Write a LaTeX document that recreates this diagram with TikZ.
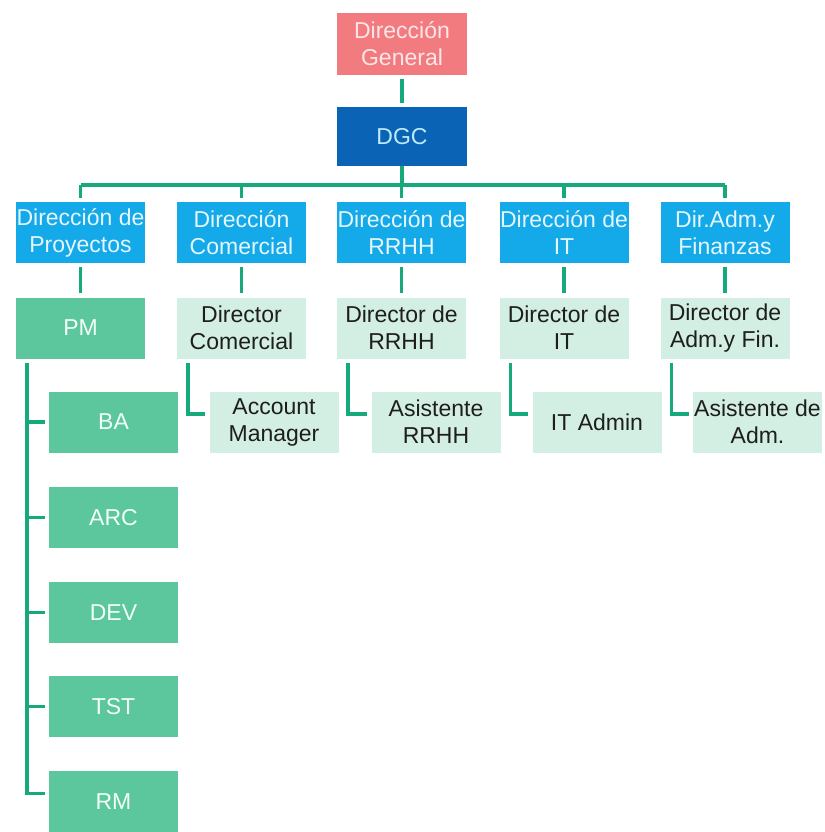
\documentclass[tikz,border=0pt]{standalone}
\usepackage{fontspec}
\setmainfont{Liberation Sans}
\definecolor{dgfill}{HTML}{F27B80}
\definecolor{dgtext}{HTML}{FDE6E8}
\definecolor{dgcfill}{HTML}{0B63B5}
\definecolor{dgctext}{HTML}{BDEBFB}
\definecolor{bluefill}{HTML}{14A9E8}
\definecolor{bluetext}{HTML}{E6F6FD}
\definecolor{pmfill}{HTML}{5CC69C}
\definecolor{pmtext}{HTML}{F2FFF9}
\definecolor{mintfill}{HTML}{D3EEE2}
\definecolor{darktext}{HTML}{1E1E1E}
\definecolor{linecol}{HTML}{16A97B}
\begin{document}
\begin{tikzpicture}[x=1pt,y=-1pt,
  box/.style={draw=none, minimum width=129pt, minimum height=61pt, inner sep=0pt, align=center, font=\fontsize{23}{27}\selectfont},
  topbox/.style={box, fill=dgfill, text=dgtext, minimum width=130pt, minimum height=62pt},
  dgcbox/.style={box, fill=dgcfill, text=dgctext, minimum width=130pt, minimum height=59pt},
  bluebox/.style={box, fill=bluefill, text=bluetext},
  pmbox/.style={box, fill=pmfill, text=pmtext},
  mintbox/.style={box, fill=mintfill, text=darktext},
  conn/.style={draw=linecol, line width=3.5pt, line join=miter},
  gapS/.style={shorten <=4pt},
  gapE/.style={shorten >=4pt}
]
\useasboundingbox (0,0) rectangle (824,832);
\fill[white] (0,0) rectangle (824,832);

% top
\node[topbox] (dg) at (402,44) {Dirección\\General};
\node[dgcbox] (dgc) at (402,136.5) {DGC};

% level 2
\node[bluebox] (l2a) at (80.5,232.5) {Dirección de\\Proyectos};
\node[bluebox] (l2b) at (241.5,232.5) {Dirección\\Comercial};
\node[bluebox] (l2c) at (401.5,232.5) {Dirección de\\RRHH};
\node[bluebox] (l2d) at (564,232.5) {Dirección de\\IT};
\node[bluebox] (l2e) at (725,232.5) {Dir.Adm.y\\Finanzas};

% level 3
\node[pmbox] (pm) at (80.5,328) {PM};
\node[mintbox] (l3b) at (241.5,328) {Director\\Comercial};
\node[mintbox] (l3c) at (401.5,328) {Director de\\RRHH};
\node[mintbox] (l3d) at (564,328) {Director de\\IT};
\node[mintbox] (l3e) at (725,328) {Director de\\Adm.y Fin.};

% level 4
\node[pmbox] (ba) at (113.5,422) {BA};
\node[mintbox] (l4b) at (274,422) {Account\\Manager};
\node[mintbox] (l4c) at (436,422) {Asistente\\RRHH};
\node[mintbox] (l4d) at (597,422) {IT Admin};
\node[mintbox] (l4e) at (757.5,422) {Asistente de\\Adm.};

% PM team
\node[pmbox] (arc) at (113.5,517.5) {ARC};
\node[pmbox] (dev) at (113.5,612.5) {DEV};
\node[pmbox] (tst) at (113.5,706.5) {TST};
\node[pmbox] (rm) at (113.5,801.5) {RM};

% connectors top
\draw[conn,gapS,gapE] (dg) -- (dgc);
\coordinate (bus) at (402,185);
\draw[conn] (dgc.south) -- (bus);
\draw[conn,gapE] (l2a.north |- bus) -- (l2a.north);
\draw[conn] (l2a.north |- bus) -- (l2e.north |- bus);
\draw[conn,gapE] (l2b.north |- bus) -- (l2b.north);
\draw[conn,gapE] (l2c.north |- bus) -- (l2c.north);
\draw[conn,gapE] (l2d.north |- bus) -- (l2d.north);
\draw[conn,gapE] (l2e.north |- bus) -- (l2e.north);

% level 2 -> level 3
\draw[conn,gapS,gapE] (l2a) -- (pm);
\draw[conn,gapS,gapE] (l2b) -- (l3b);
\draw[conn,gapS,gapE] (l2c) -- (l3c);
\draw[conn,gapS,gapE] (l2d) -- (l3d);
\draw[conn,gapS,gapE] (l2e) -- (l3e);

% level 3 -> level 4 (L shapes)
\draw[conn,gapS,gapE] ([xshift=11pt]l3b.south west) |- ([yshift=8pt]l4b.west);
\draw[conn,gapS,gapE] ([xshift=11pt]l3c.south west) |- ([yshift=8pt]l4c.west);
\draw[conn,gapS,gapE] ([xshift=11pt]l3d.south west) |- ([yshift=8pt]l4d.west);
\draw[conn,gapS,gapE] ([xshift=11pt]l3e.south west) |- ([yshift=8pt]l4e.west);

% PM team spine
\coordinate (pmx) at ([xshift=11pt]pm.south west);
\draw[conn,gapS,gapE] (pmx) |- ([yshift=8pt]rm.west);
\draw[conn,gapE] (ba.west -| pmx) -- (ba.west);
\draw[conn,gapE] (arc.west -| pmx) -- (arc.west);
\draw[conn,gapE] (dev.west -| pmx) -- (dev.west);
\draw[conn,gapE] (tst.west -| pmx) -- (tst.west);
\end{tikzpicture}
\end{document}
